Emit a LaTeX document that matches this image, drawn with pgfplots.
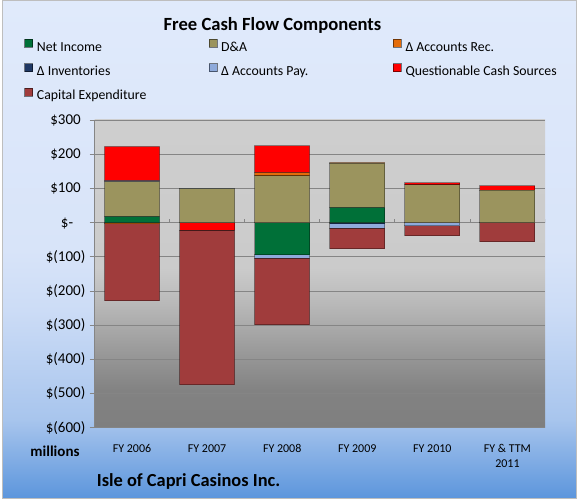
\documentclass[border=0pt]{standalone}
\usepackage{fontspec}
\setmainfont{Carlito}
\usepackage{pgfplots}
\pgfplotsset{compat=1.18}
\usepackage{pgfplotstable}

\definecolor{cNI}{HTML}{007038}
\definecolor{cDA}{HTML}{9B945E}
\definecolor{cAR}{HTML}{E46C0A}
\definecolor{cInv}{HTML}{1F3864}
\definecolor{cAP}{HTML}{8EAADB}
\definecolor{cQCS}{HTML}{FF0000}
\definecolor{cCap}{HTML}{A03C3C}
\definecolor{gridc}{HTML}{858585}
\definecolor{bordc}{HTML}{BEBEBE}

\definecolor{bA}{HTML}{E0EAFB}
\definecolor{bB}{HTML}{D8E4F9}
\definecolor{bC}{HTML}{CCDCF6}
\definecolor{bD}{HTML}{A8C5ED}
\definecolor{bE}{HTML}{5B95DC}
\pgfdeclareverticalshading{pagebg}{100bp}{color(0bp)=(bE); color(25bp)=(bE); color(33bp)=(bD); color(44bp)=(bC); color(50bp)=(bB); color(75bp)=(bA); color(100bp)=(bA)}

\definecolor{pA}{HTML}{CECECE}
\definecolor{pB}{HTML}{CBCBCB}
\definecolor{pC}{HTML}{B8B8B8}
\definecolor{pD}{HTML}{9A9A9A}
\definecolor{pE}{HTML}{828282}
\definecolor{pF}{HTML}{7F7F7F}
\pgfdeclareverticalshading{plotbg}{100bp}{color(0bp)=(pF); color(25bp)=(pF); color(31bp)=(pE); color(37.5bp)=(pD); color(45bp)=(pC); color(51bp)=(pB); color(75bp)=(pA); color(100bp)=(pA)}

\pgfplotstableread{
x NI DA AR Inv AP QCS Cap
0 17.5 102 0 0 3 99.5 0
1 0 99 0 0 2 0 0
2 0 136.5 9.7 0 0 78 0
3 44 129 2 0 0 0 0
4 0 110 0 0 0 6 0
5 0 95 0 0 0 12 0
}\postab

\pgfplotstableread{
x NI DA AR Inv AP QCS Cap
0 0 0 -2 0 0 0 -227
1 0 0 0 0 0 -22 -453
2 -94.6 0 0 0 -9.7 0 -195
3 0 0 0 -3 -13 0 -61
4 0 0 0 0 -10 0 -29
5 0 0 0 0 0 0 -56.5
}\negtab

\pgfplotsset{
  common/.style={
    at={(94.5pt,74.3pt)}, anchor=south west,
    scale only axis, width=450.5pt, height=307.7pt,
    xmin=-0.5, xmax=5.5, ymin=-600, ymax=300,
    ybar stacked, bar width=55pt,
  },
  barst/.style={fill=#1, draw=black, draw opacity=0.35, line width=1pt},
}

\begin{document}
\begin{tikzpicture}
\useasboundingbox (0,0) rectangle (578pt,502pt);
\fill[white] (0,0) rectangle (578pt,502pt);
\shade[shading=pagebg] (2pt,3pt) rectangle (576pt,501pt);
\draw[bordc, line width=1pt] (2pt,3pt) rectangle (576pt,501pt);

\begin{axis}[common,
  axis background/.style={shading=plotbg},
  axis x line*=bottom, axis y line*=left,
  x axis line style={draw=none},
  y axis line style={draw=gridc, line width=0.8pt},
  xtick={0,...,5},
  xticklabels={FY 2006, FY 2007, FY 2008, FY 2009, FY 2010, {FY \& TTM\\2011}},
  x tick label style={font=\fontsize{12}{14.4}\selectfont, align=center, inner sep=0pt, anchor=north, yshift=-11.7pt},
  xtick style={draw=none},
  ytick={-600,-500,...,300},
  yticklabels={\$(600),\$(500),\$(400),\$(300),\$(200),\$(100),\$-\phantom{0)},\$100\phantom{)},\$200\phantom{)},\$300\phantom{)}},
  y tick label style={font=\fontsize{15}{18}\selectfont, anchor=east, inner sep=0pt, xshift=-4pt},
  ytick style={draw=gridc, line width=0.8pt},
  tick align=outside, major tick length=5pt,
  ymajorgrids, grid style={draw=gridc, line width=0.8pt},
  legend columns=3,
  legend cell align=left,
  legend image code/.code={\draw[#1, draw opacity=0.5, line width=0.6pt] (0pt,0.5pt) rectangle (8pt,8.5pt);},
  legend style={at={(axis description cs:-0.1558,1.2636)}, anchor=north west, draw=none, fill=none, inner sep=0pt, outer sep=0pt,
    font=\fontsize{13.8}{16}\selectfont, column sep=4pt, row sep=9.1pt,
    nodes={inner sep=0pt, text height=10pt, text depth=3pt}},
]
\addplot[barst=cNI] table[x=x,y=NI] {\negtab};
\addplot[barst=cDA] table[x=x,y=DA] {\negtab};
\addplot[barst=cAR] table[x=x,y=AR] {\negtab};
\addplot[barst=cInv] table[x=x,y=Inv] {\negtab};
\addplot[barst=cAP] table[x=x,y=AP] {\negtab};
\addplot[barst=cQCS] table[x=x,y=QCS] {\negtab};
\addplot[barst=cCap] table[x=x,y=Cap] {\negtab};
\legend{\makebox[167.7pt][l]{Net Income},\makebox[167.7pt][l]{D\&A},\makebox[167.7pt][l]{Δ Accounts Rec.},
        \makebox[167.7pt][l]{Δ Inventories},\makebox[167.7pt][l]{Δ Accounts Pay.},\makebox[167.7pt][l]{Questionable Cash Sources},
        \makebox[167.7pt][l]{Capital Expenditure}}
\pgfplotsinvokeforeach{0.5,1.5,2.5,3.5,4.5,5.5}{\draw[gridc, line width=0.8pt] (axis cs:#1,0) -- ++(0pt,4pt);}
\end{axis}

\begin{axis}[common, hide axis]
\addplot[barst=cNI] table[x=x,y=NI] {\postab};
\addplot[barst=cDA] table[x=x,y=DA] {\postab};
\addplot[barst=cAR] table[x=x,y=AR] {\postab};
\addplot[barst=cInv] table[x=x,y=Inv] {\postab};
\addplot[barst=cAP] table[x=x,y=AP] {\postab};
\addplot[barst=cQCS] table[x=x,y=QCS] {\postab};
\addplot[barst=cCap] table[x=x,y=Cap] {\postab};
\end{axis}

\node[font=\bfseries\fontsize{18.6}{22}\selectfont] at (272.5pt,477pt) {Free Cash Flow Components};
\node[font=\bfseries\fontsize{15}{18}\selectfont] at (55pt,50.3pt) {millions};
\node[font=\bfseries\fontsize{18.4}{22}\selectfont, anchor=west, inner sep=0pt] at (96.7pt,20.3pt) {Isle of Capri Casinos Inc.};
\end{tikzpicture}
\end{document}
